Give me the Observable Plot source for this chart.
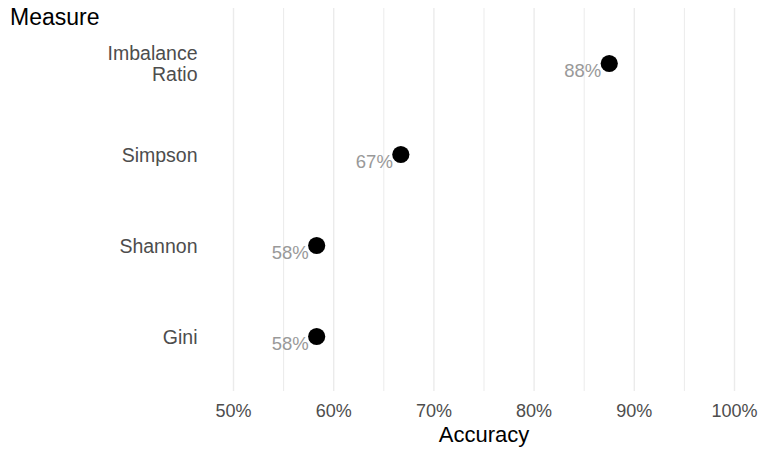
<!DOCTYPE html>
<html>
<head>
<meta charset="utf-8">
<script src="https://cdn.jsdelivr.net/npm/d3@7"></script>
<script src="https://cdn.jsdelivr.net/npm/@observablehq/plot@0.6"></script>
<style>
  html, body { margin: 0; padding: 0; background: #fff; }
  #wrap { position: relative; width: 759px; height: 449px; font-family: "Liberation Sans", Arial, sans-serif; }
  #ytitle { position: absolute; left: 10px; top: 6px; font-size: 23px; color: #000; line-height: 1; }
</style>
</head>
<body>
<div id="wrap"><div id="ytitle">Measure</div></div>
<script>
const measures = ["Imbalance Ratio", "Simpson", "Shannon", "Gini"];
const measureLabels = ["Imbalance\nRatio", "Simpson", "Shannon", "Gini"];
const accuracy = [87.5, 66.7, 58.3, 58.3];
const accuracyLabels = ["88%", "67%", "58%", "58%"];
const majorTicks = [50, 60, 70, 80, 90, 100];
const minorTicks = [55, 65, 75, 85, 95];

const data = measures.map((m, i) => ({measure: m, acc: accuracy[i], label: accuracyLabels[i]}));
const labelOf = new Map(measures.map((m, i) => [m, measureLabels[i]]));

const chart = Plot.plot({
  width: 759,
  height: 449,
  marginLeft: 233,
  marginRight: 25,
  marginTop: 8,
  marginBottom: 58,
  style: {fontFamily: "\"Liberation Sans\", Arial, sans-serif", background: "#fff"},
  x: {domain: [50, 100]},
  y: {type: "point", domain: measures, padding: 0.6},
  marks: [
    Plot.ruleX(minorTicks, {stroke: "#ebebeb", strokeWidth: 1}),
    Plot.ruleX(majorTicks, {stroke: "#ebebeb", strokeWidth: 1.4}),
    Plot.axisX({ticks: majorTicks, tickFormat: d => d + "%", tickSize: 0, tickPadding: 13, fontSize: 18, color: "#4d4d4d", label: null}),
    Plot.axisY({tickFormat: d => labelOf.get(d), tickSize: 0, tickPadding: 36, fontSize: 19.5, lineHeight: 1.12, color: "#4d4d4d", label: null}),
    Plot.text(["Accuracy"], {frameAnchor: "bottom", dy: 50, fontSize: 22, fill: "#000"}),
    Plot.dot(data, {x: "acc", y: "measure", r: 8.6, fill: "#000", stroke: null}),
    Plot.text(data, {x: "acc", y: "measure", text: "label", textAnchor: "end", dx: -8, dy: 8, fontSize: 18.5, fill: "#999999"})
  ]
});
document.getElementById("wrap").prepend(chart);
</script>
</body>
</html>
